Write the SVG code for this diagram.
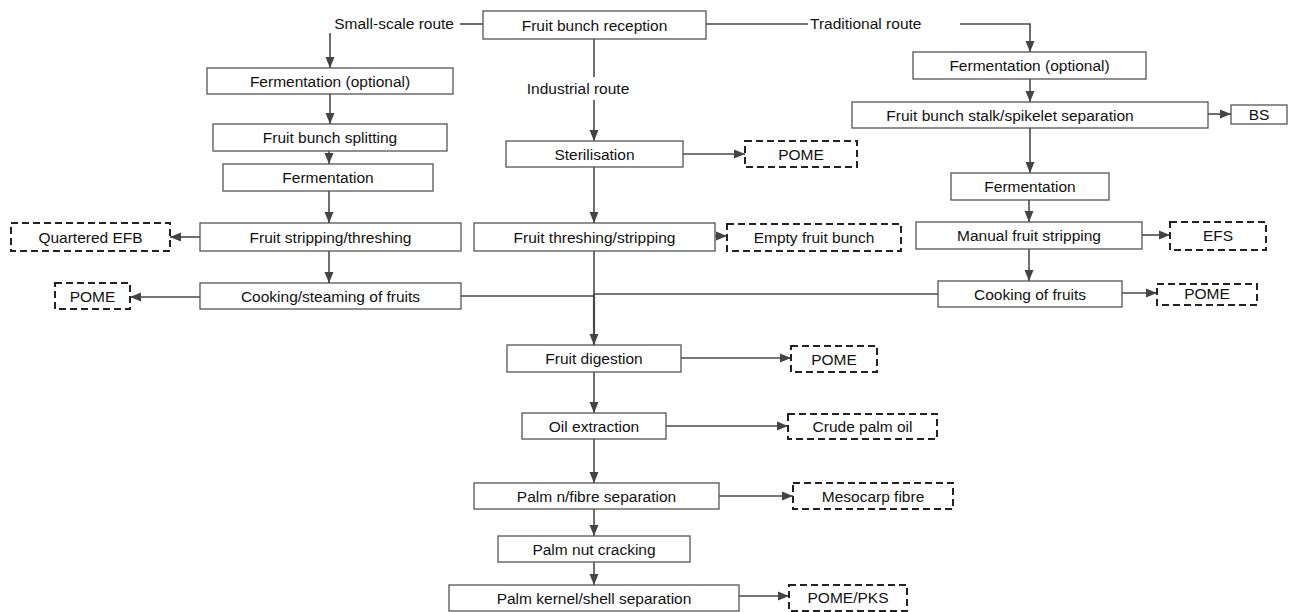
<svg xmlns="http://www.w3.org/2000/svg" width="1295" height="612" viewBox="0 0 1295 612">
<style>
  .box{fill:#fff;stroke:#555;stroke-width:1.3}
  .dash{fill:#fff;stroke:#222;stroke-width:2;stroke-dasharray:7 4}
  .t{font-family:"Liberation Sans",Arial,sans-serif;font-size:15.5px;fill:#111;text-anchor:middle;dominant-baseline:central}
  .lbl{font-family:"Liberation Sans",Arial,sans-serif;font-size:15.5px;fill:#111}
  .c{fill:none;stroke:#4a4a4a;stroke-width:1.6}
  .a{fill:none;stroke:#4a4a4a;stroke-width:1.6;marker-end:url(#ah)}
</style>
<defs>
  <marker id="ah" markerUnits="userSpaceOnUse" markerWidth="12" markerHeight="10" refX="11" refY="5" orient="auto">
    <path d="M0,0.5 L11,5 L0,9.5 Z" fill="#444"/>
  </marker>
</defs>
<rect width="1295" height="612" fill="#fff"/>

<g id="connectors">
  <line class="c" x1="460" y1="24" x2="483" y2="24"/>
  <line class="c" x1="706" y1="24" x2="808" y2="24"/>
  <path class="a" d="M960,24 H1030 V52"/>
  <line class="a" x1="330" y1="33" x2="330" y2="68"/>
  <line class="c" x1="594" y1="39" x2="594" y2="77"/>
  <line class="a" x1="594" y1="100" x2="594" y2="141"/>
  <line class="a" x1="330" y1="94" x2="330" y2="124"/>
  <line class="a" x1="329" y1="151" x2="329" y2="164"/>
  <line class="a" x1="329" y1="191" x2="329" y2="223"/>
  <line class="a" x1="200" y1="237" x2="170" y2="237"/>
  <line class="a" x1="329" y1="251" x2="329" y2="283"/>
  <line class="a" x1="200" y1="297" x2="130" y2="297"/>
  <line class="c" x1="461" y1="296" x2="594" y2="296"/>
  <line class="a" x1="683" y1="154" x2="745" y2="154"/>
  <line class="a" x1="594" y1="167" x2="594" y2="223"/>
  <line class="a" x1="715" y1="236" x2="727" y2="236"/>
  <line class="c" x1="594" y1="251" x2="594" y2="296"/>
  <line class="a" x1="594" y1="294" x2="594" y2="345" style="stroke-width:2.2"/>
  <line class="a" x1="681" y1="358" x2="791" y2="358"/>
  <line class="a" x1="594" y1="372" x2="594" y2="413"/>
  <line class="a" x1="666" y1="426" x2="788" y2="426"/>
  <line class="a" x1="594" y1="439" x2="594" y2="483"/>
  <line class="a" x1="719" y1="496" x2="793" y2="496"/>
  <line class="a" x1="594" y1="509" x2="594" y2="536"/>
  <line class="a" x1="594" y1="562" x2="594" y2="585"/>
  <line class="a" x1="739" y1="596" x2="789" y2="596"/>
  <line class="a" x1="1030" y1="79" x2="1030" y2="102"/>
  <line class="a" x1="1208" y1="114" x2="1231" y2="114"/>
  <line class="a" x1="1030" y1="128" x2="1030" y2="173"/>
  <line class="a" x1="1029" y1="200" x2="1029" y2="222"/>
  <line class="a" x1="1142" y1="235" x2="1170" y2="235"/>
  <line class="a" x1="1029" y1="249" x2="1029" y2="281"/>
  <line class="a" x1="1122" y1="293" x2="1157" y2="293"/>
  <line class="c" x1="594" y1="294" x2="938" y2="294"/>
</g>

<g id="labels">
  <text class="lbl" x="454" y="29" text-anchor="end">Small-scale route</text>
  <text class="lbl" x="810" y="29">Traditional route</text>
  <text class="lbl" x="578" y="94" text-anchor="middle">Industrial route</text>
</g>

<g id="n-reception"><rect class="box" x="483" y="11" width="223" height="28"/><text class="t" x="594.5" y="25">Fruit bunch reception</text></g>

<g id="n-ferm-opt-l"><rect class="box" x="207" y="68" width="246" height="26"/><text class="t" x="330" y="81">Fermentation (optional)</text></g>
<g id="n-splitting"><rect class="box" x="213" y="124" width="234" height="27"/><text class="t" x="330" y="137.5">Fruit bunch splitting</text></g>
<g id="n-ferm-l"><rect class="box" x="223" y="164" width="210" height="27"/><text class="t" x="328" y="177.5">Fermentation</text></g>
<g id="n-stripping-l"><rect class="box" x="200" y="223" width="261" height="28"/><text class="t" x="330.5" y="237">Fruit stripping/threshing</text></g>
<g id="n-qefb"><rect class="dash" x="11" y="223" width="159" height="28"/><text class="t" x="90.5" y="237">Quartered EFB</text></g>
<g id="n-cooking-l"><rect class="box" x="200" y="283" width="261" height="26"/><text class="t" x="330.5" y="296">Cooking/steaming of fruits</text></g>
<g id="n-pome-l"><rect class="dash" x="55" y="283" width="75" height="26"/><text class="t" x="92.5" y="296">POME</text></g>

<g id="n-steril"><rect class="box" x="506" y="141" width="177" height="26"/><text class="t" x="594.5" y="154">Sterilisation</text></g>
<g id="n-pome-st"><rect class="dash" x="745" y="141" width="112" height="26"/><text class="t" x="801" y="154">POME</text></g>
<g id="n-threshing"><rect class="box" x="474" y="223" width="241" height="28"/><text class="t" x="594.5" y="237">Fruit threshing/stripping</text></g>
<g id="n-efb"><rect class="dash" x="727" y="224" width="174" height="27"/><text class="t" x="814" y="237.5">Empty fruit bunch</text></g>
<g id="n-digestion"><rect class="box" x="507" y="345" width="174" height="27"/><text class="t" x="594" y="358.5">Fruit digestion</text></g>
<g id="n-pome-dig"><rect class="dash" x="791" y="346" width="86" height="26"/><text class="t" x="834" y="359">POME</text></g>
<g id="n-oil"><rect class="box" x="522" y="413" width="144" height="26"/><text class="t" x="594" y="426">Oil extraction</text></g>
<g id="n-cpo"><rect class="dash" x="788" y="414" width="149" height="25"/><text class="t" x="862.5" y="426.5">Crude palm oil</text></g>
<g id="n-nutfibre"><rect class="box" x="474" y="483" width="245" height="26"/><text class="t" x="596.5" y="496">Palm n/fibre separation</text></g>
<g id="n-meso"><rect class="dash" x="793" y="483" width="160" height="26"/><text class="t" x="873" y="496">Mesocarp fibre</text></g>
<g id="n-cracking"><rect class="box" x="498" y="536" width="192" height="26"/><text class="t" x="594" y="549">Palm nut cracking</text></g>
<g id="n-kernel"><rect class="box" x="449" y="585" width="290" height="26"/><text class="t" x="594" y="598">Palm kernel/shell separation</text></g>
<g id="n-pks"><rect class="dash" x="789" y="585" width="118" height="26"/><text class="t" x="848" y="597">POME/PKS</text></g>

<g id="n-ferm-opt-r"><rect class="box" x="913" y="52" width="233" height="27"/><text class="t" x="1029.5" y="65.5">Fermentation (optional)</text></g>
<g id="n-stalk"><rect class="box" x="852" y="102" width="356" height="26"/><text class="t" x="1010" y="115">Fruit bunch stalk/spikelet separation</text></g>
<g id="n-bs"><rect class="box" x="1231" y="105" width="56" height="19"/><text class="t" x="1259" y="114.5">BS</text></g>
<g id="n-ferm-r"><rect class="box" x="951" y="173" width="158" height="27"/><text class="t" x="1030" y="186.5">Fermentation</text></g>
<g id="n-manual"><rect class="box" x="916" y="222" width="226" height="27"/><text class="t" x="1029" y="235.5">Manual fruit stripping</text></g>
<g id="n-efs"><rect class="dash" x="1170" y="222" width="96" height="28"/><text class="t" x="1218" y="235">EFS</text></g>
<g id="n-cooking-r"><rect class="box" x="938" y="281" width="184" height="26"/><text class="t" x="1030" y="294">Cooking of fruits</text></g>
<g id="n-pome-r"><rect class="dash" x="1157" y="284" width="100" height="21"/><text class="t" x="1207" y="293.5">POME</text></g>
</svg>
